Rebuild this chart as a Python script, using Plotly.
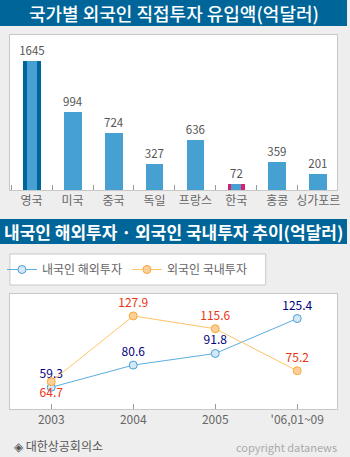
import plotly.graph_objects as go

# ---- data ----
countries = ["영국", "미국", "중국", "독일", "프랑스", "한국", "홍콩", "싱가포르"]
fdi = [1645, 994, 724, 327, 636, 72, 359, 201]

years = ["2003", "2004", "2005", "'06,01~09"]
outward = [59.3, 80.6, 91.8, 125.4]   # 내국인 해외투자
inward = [64.7, 127.9, 115.6, 75.2]   # 외국인 국내투자

# ---- styles ----
W, H = 350, 457
BLUE_BAR = "#46a1d2"
DARK = "#006699"
MAG = "#d9206e"
FONT = "Noto Sans CJK KR"

def py(px):
    return (H - px) / H

bar_colors = [DARK if c == "영국" else MAG if c == "한국" else BLUE_BAR for c in countries]
full_w = 0.436
inner_w = 0.242

fig = go.Figure()
fig.add_trace(go.Bar(
    x=countries, y=fdi, width=[full_w] * len(fdi),
    marker=dict(color=bar_colors, line=dict(width=0)),
    text=[str(v) for v in fdi], textposition="outside", cliponaxis=False,
    constraintext="none",
    textfont=dict(family=FONT, size=11.5, color="#555555"),
    xaxis="x", yaxis="y", showlegend=False, hoverinfo="skip"))
hl = [i for i, c in enumerate(countries) if c in ("영국", "한국")]
fig.add_trace(go.Bar(
    x=[countries[i] for i in hl], y=[fdi[i] for i in hl], width=[inner_w] * len(hl),
    marker=dict(color=BLUE_BAR, line=dict(width=0)),
    xaxis="x", yaxis="y", showlegend=False, hoverinfo="skip"))

out_pos = ["top center"] * len(years)
in_pos = ["bottom center"] + ["top center"] * (len(years) - 1)
fig.add_trace(go.Scatter(
    x=years, y=outward, mode="lines+markers+text", name="내국인 해외투자",
    line=dict(color="#5aaee0", width=1),
    marker=dict(size=8, color="#d4e8f7", line=dict(color="#4a9fd5", width=1)),
    text=[f"{v:.1f}" for v in outward], textposition=out_pos, cliponaxis=False,
    textfont=dict(family=FONT, size=12, color="#000080"),
    xaxis="x2", yaxis="y2", hoverinfo="skip"))
fig.add_trace(go.Scatter(
    x=years, y=inward, mode="lines+markers+text", name="외국인 국내투자",
    line=dict(color="#ffc466", width=1),
    marker=dict(size=8, color="#ffcf99", line=dict(color="#f5a93a", width=1)),
    text=[f"{v:.1f}" for v in inward], textposition=in_pos, cliponaxis=False,
    textfont=dict(family=FONT, size=12, color="#ee3311"),
    xaxis="x2", yaxis="y2", hoverinfo="skip"))

axis_common = dict(showline=True, mirror=True, linecolor="#c8c8c8", linewidth=1,
                   showgrid=False, zeroline=False, fixedrange=True)

fig.update_layout(
    width=W, height=H, margin=dict(l=0, r=0, t=0, b=0),
    paper_bgcolor="#eeeeee", plot_bgcolor="#ffffff",
    barmode="overlay", bargap=0,
    font=dict(family=FONT, color="#666666", size=12),
    xaxis=dict(domain=[10 / W, 340 / W], anchor="y", type="category",
               range=[-0.53, 7.46], ticks="inside", tickson="boundaries",
               ticklen=5, tickcolor="#999999", tickangle=0,
               tickfont=dict(family=FONT, size=12, color="#666666"), **axis_common),
    yaxis=dict(domain=[py(190), py(35)], anchor="x", range=[0, 1977],
               showticklabels=False, ticks="", **axis_common),
    xaxis2=dict(domain=[10 / W, 340 / W], anchor="y2", type="category",
                range=[-0.504, 3.486], ticks="inside", ticklen=5, tickcolor="#999999",
                tickangle=0,
                tickfont=dict(family=FONT, size=12, color="#666666"), **axis_common),
    yaxis2=dict(domain=[py(409), py(294)], anchor="x2", range=[38.4, 149],
                showticklabels=False, ticks="", **axis_common),
    legend=dict(orientation="h", x=2 / W, xanchor="left", y=py(269.5), yanchor="middle",
                entrywidth=80, entrywidthmode="pixels",
                bgcolor="rgba(0,0,0,0)", font=dict(family=FONT, size=12, color="#666666")),
    shapes=[
        dict(type="rect", xref="paper", yref="paper", x0=0, x1=1, y0=py(26), y1=1,
             fillcolor=DARK, line=dict(width=0), layer="below"),
        dict(type="rect", xref="paper", yref="paper", x0=0, x1=1, y0=py(244), y1=py(219),
             fillcolor=DARK, line=dict(width=0), layer="below"),
        dict(type="rect", xref="paper", yref="paper", x0=10 / W, x1=268 / W,
             y0=py(285), y1=py(254), fillcolor="#ffffff",
             line=dict(color="#c8c8c8", width=1), layer="below"),
    ],
    annotations=[
        dict(text="국가별 외국인 직접투자 유입액(억달러)", xref="paper", yref="paper",
             x=0.5, y=py(13), xanchor="center", yanchor="middle", showarrow=False,
             font=dict(family=FONT, size=18, color="#ffffff", weight=500)),
        dict(text="<b>내국인 해외투자 · 외국인 국내투자 추이(억달러)</b>", xref="paper", yref="paper",
             x=0.5, y=py(231.5), xanchor="center", yanchor="middle", showarrow=False,
             font=dict(family=FONT, size=17, color="#ffffff")),
        dict(text="◈ 대한상공회의소", xref="paper", yref="paper",
             x=12 / W, y=py(445), xanchor="left", yanchor="middle", showarrow=False,
             font=dict(family=FONT, size=12, color="#555555")),
        dict(text="copyright datanews", xref="paper", yref="paper",
             x=342 / W, y=py(447), xanchor="right", yanchor="middle", showarrow=False,
             font=dict(family=FONT, size=11, color="#aaaaaa")),
    ],
)

fig.write_html("out.html")
